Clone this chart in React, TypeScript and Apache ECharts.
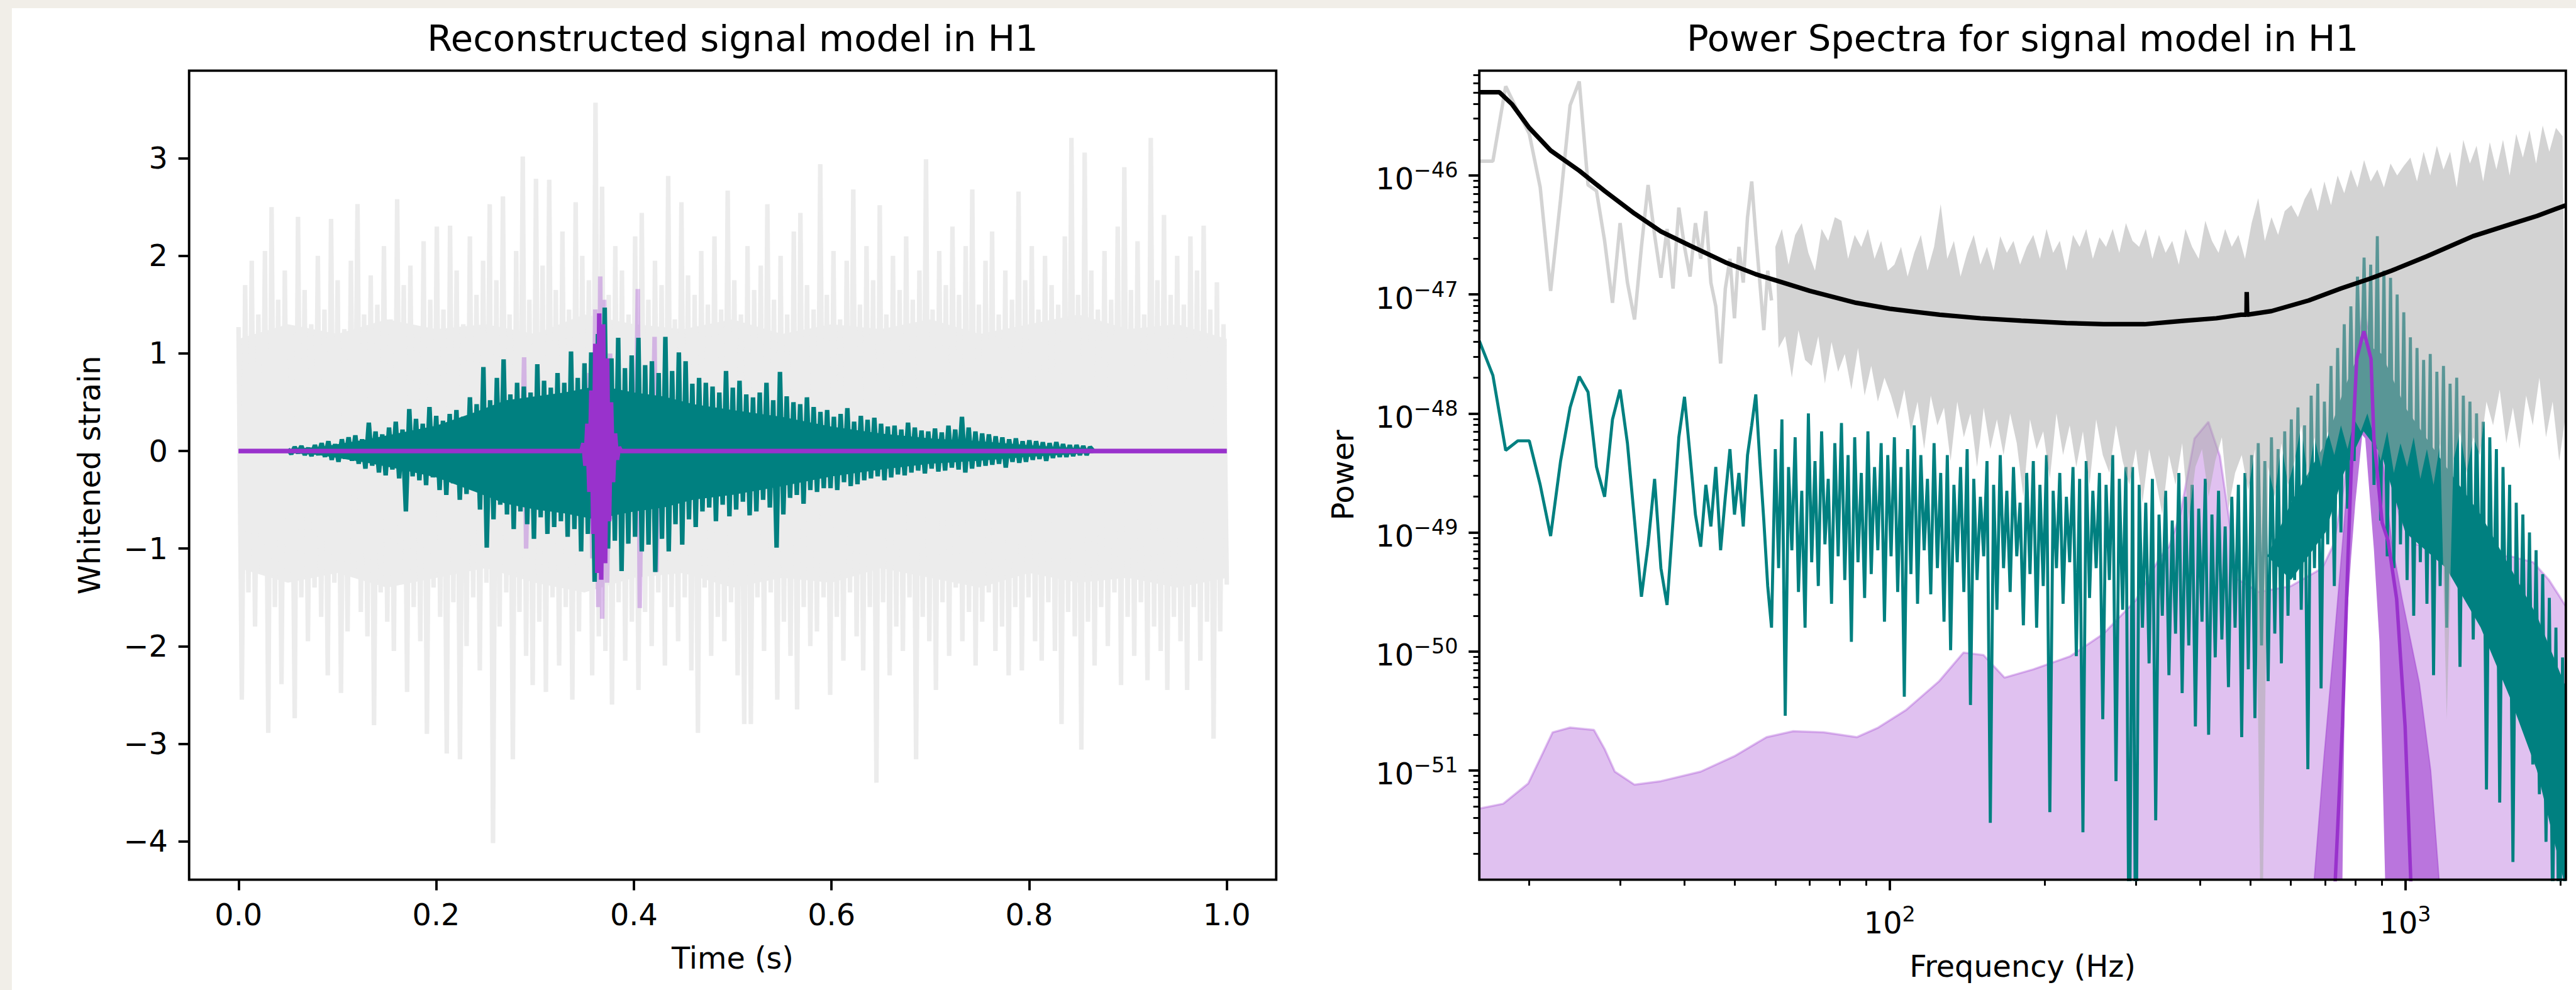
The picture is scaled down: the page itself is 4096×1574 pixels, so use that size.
import React, { useEffect, useRef } from "react";
import * as echarts from "echarts";

const S = 0.994;
const W = 4096;
const H = 1574;
const FONT = '"DejaVu Sans", "Liberation Sans", Arial, sans-serif';
const TICK_FS = 48 * S;
const LABEL_FS = 48 * S;
const TITLE_FS = 58 * S;
const SUP_FS = TICK_FS * 0.7;
const SPINE_W = 3.84;

// ---------------- Left panel: reconstructed signal (time domain) ----------------
const timeTicks = [0, 0.2, 0.4, 0.6, 0.8, 1.0];
const strainTicks = [-4, -3, -2, -1, 0, 1, 2, 3];

// whitened data, 300 samples evenly spread over 0..1 s
const whitenedStrain = [
  1.27, -2.55, 1.7, -1.45, 1.95, -1.8, 1.4, -1.25, 2.05, -2.89,
  2.5, -1.6, 1.55, -2.39, 1.85, -1.3, 1.2, -2.74, 2.4, -1.5,
  1.65, -1.95, 1.3, -1.4, 2.0, -1.7, 1.45, -2.3, 2.38, -1.35,
  1.75, -2.48, 1.25, -1.85, 1.95, -1.2, 2.53, -1.65, 1.4, -1.9,
  1.8, -2.81, 1.5, -1.45, 2.1, -1.75, 1.35, -2.05, 2.58, -1.3,
  1.7, -2.47, 1.9, -1.6, 1.25, -1.95, 2.15, -2.9, 1.55, -1.4,
  2.3, -1.7, 1.45, -3.1, 2.31, -1.55, 1.85, -3.16, 1.3, -2.0,
  2.2, -1.5, 1.6, -2.25, 1.95, -1.35, 2.53, -4.02, 1.75, -1.8,
  2.61, -1.45, 1.4, -3.16, 2.05, -1.65, 3.02, -2.1, 1.55, -2.4,
  2.79, -1.75, 1.9, -2.47, 2.78, -1.5, 1.65, -2.2, 2.25, -1.6,
  1.45, -2.55, 2.55, -1.85, 2.0, -1.4, 1.75, -2.3, 3.57, -1.9,
  2.71, -2.05, 1.6, -2.6, 2.1, -1.55, 1.85, -2.15, 1.4, -1.75,
  2.2, -2.45, 2.44, -1.65, 1.55, -2.0, 1.95, -1.45, 1.7, -2.2,
  2.82, -1.6, 1.35, -1.95, 2.55, -1.5, 1.8, -2.25, 1.6, -2.89,
  2.05, -1.4, 1.5, -2.1, 2.2, -1.7, 1.45, -1.95, 2.67, -1.55,
  1.75, -2.3, 1.4, -2.8, 2.1, -2.8, 1.65, -1.5, 1.9, -2.05,
  2.53, -1.45, 1.55, -2.55, 2.0, -1.75, 1.4, -2.1, 2.25, -2.65,
  2.44, -1.6, 1.7, -2.0, 1.45, -1.85, 2.94, -1.5, 1.6, -2.5,
  2.05, -1.7, 1.35, -2.15, 1.95, -1.45, 2.68, -1.9, 1.5, -2.25,
  2.1, -1.6, 1.75, -3.4, 2.52, -1.55, 1.4, -2.3, 2.0, -1.8,
  1.65, -2.05, 2.2, -1.5, 1.55, -3.16, 1.85, -1.7, 2.99, -1.95,
  1.45, -2.45, 2.05, -1.55, 1.7, -2.1, 2.3, -1.4, 1.6, -1.95,
  2.1, -1.65, 2.68, -2.2, 1.5, -1.75, 1.95, -1.45, 2.25, -2.05,
  1.4, -1.8, 1.85, -2.3, 1.55, -1.6, 2.66, -2.25, 1.75, -1.5,
  2.1, -1.95, 1.45, -2.15, 2.0, -1.55, 1.7, -2.05, 1.5, -2.8,
  2.2, -1.65, 3.21, -1.9, 1.6, -3.06, 3.06, -1.75, 1.85, -2.2,
  1.45, -1.6, 2.05, -2.0, 1.55, -1.45, 2.3, -2.4, 2.91, -1.7,
  1.65, -2.1, 2.15, -1.55, 1.4, -2.35, 3.21, -1.8, 1.75, -2.05,
  2.42, -2.45, 1.6, -1.7, 2.0, -1.95, 1.5, -2.45, 2.2, -1.6,
  1.85, -2.15, 2.31, -1.75, 1.45, -2.95, 1.73, -1.85, 1.3, -1.37,
];
// dense core of the whitened data (envelope of the bulk of the samples)
const whitenedCoreTimes = [
  0, 0.05, 0.1, 0.15, 0.2, 0.25, 0.3, 0.35, 0.4, 0.45, 0.5, 0.55, 0.6, 0.65, 0.7,
  0.75, 0.8, 0.85, 0.9, 0.95, 1.0,
];
const whitenedCoreUpper = [
  1.15, 1.3, 1.2, 1.35, 1.25, 1.3, 1.2, 1.4, 1.3, 1.25, 1.35, 1.2, 1.3, 1.25, 1.35,
  1.2, 1.3, 1.4, 1.25, 1.3, 1.15,
];
const whitenedCoreLower = [
  -1.2, -1.35, -1.25, -1.4, -1.3, -1.2, -1.35, -1.45, -1.3, -1.25, -1.4, -1.3, -1.35,
  -1.2, -1.3, -1.4, -1.25, -1.35, -1.3, -1.4, -1.3,
];

// reconstructed signal, 240 samples evenly spread over 0.05..0.865 s
const reconStart = 0.05;
const reconEnd = 0.865;
const reconstructedStrain = [
  0.02, -0.03, 0.04, -0.02, 0.05, -0.04, 0.03, -0.05, 0.06, -0.04,
  0.08, -0.06, 0.1, -0.09, 0.07, -0.11, 0.12, -0.08, 0.14, -0.1,
  0.16, -0.13, 0.12, -0.18, 0.29, -0.15, 0.2, -0.22, 0.17, -0.25,
  0.24, -0.19, 0.3, -0.28, 0.22, -0.62, 0.43, -0.26, 0.33, -0.3,
  0.28, -0.35, 0.45, -0.27, 0.36, -0.4, 0.31, -0.45, 0.38, -0.33,
  0.42, -0.5, 0.35, -0.44, 0.55, -0.38, 0.48, -0.6, 0.86, -0.99,
  0.52, -0.7, 0.75, -0.55, 0.94, -0.65, 0.58, -0.8, 0.7, -0.62,
  0.66, -0.75, 0.6, -0.9, 0.89, -0.68, 0.72, -0.85, 0.65, -0.78,
  0.8, -0.72, 0.7, -0.88, 1.02, -0.8, 0.75, -1.03, 0.9, -0.85,
  1.01, -1.34, 1.2, -1.1, 1.47, -1.0, 0.95, -0.92, 1.16, -1.23,
  0.85, -0.95, 0.98, -0.88, 1.16, -1.03, 0.88, -0.96, 0.92, -1.24,
  0.8, -0.9, 1.17, -1.03, 0.82, -0.75, 1.01, -0.96, 0.92, -0.7,
  0.69, -0.78, 0.75, -0.62, 0.7, -0.58, 0.66, -0.72, 0.6, -0.55,
  0.82, -0.67, 0.65, -0.6, 0.72, -0.52, 0.58, -0.66, 0.55, -0.62,
  0.6, -0.5, 0.7, -0.58, 0.52, -0.99, 0.81, -0.65, 0.56, -0.48,
  0.5, -0.45, 0.48, -0.54, 0.55, -0.4, 0.45, -0.42, 0.4, -0.38,
  0.42, -0.38, 0.35, -0.4, 0.38, -0.32, 0.44, -0.36, 0.3, -0.34,
  0.36, -0.3, 0.32, -0.28, 0.34, -0.26, 0.28, -0.3, 0.25, -0.27,
  0.26, -0.24, 0.22, -0.25, 0.29, -0.22, 0.24, -0.2, 0.21, -0.23,
  0.2, -0.18, 0.23, -0.21, 0.19, -0.2, 0.26, -0.17, 0.22, -0.19,
  0.35, -0.22, 0.24, -0.18, 0.2, -0.16, 0.18, -0.15, 0.17, -0.14,
  0.15, -0.13, 0.14, -0.17, 0.12, -0.11, 0.13, -0.12, 0.1, -0.11,
  0.11, -0.09, 0.1, -0.08, 0.09, -0.1, 0.08, -0.07, 0.09, -0.06,
  0.07, -0.06, 0.06, -0.05, 0.06, -0.04, 0.05, -0.04, 0.04, 0.0,
];
// dense core of the reconstruction
const reconCoreTimes = [
  0.05, 0.08, 0.1, 0.13, 0.16, 0.2, 0.24, 0.27, 0.3, 0.33, 0.36, 0.38, 0.4, 0.43,
  0.46, 0.5, 0.55, 0.6, 0.65, 0.7, 0.75, 0.8, 0.865,
];
const reconCoreUpper = [
  0.02, 0.04, 0.07, 0.12, 0.18, 0.26, 0.4, 0.52, 0.56, 0.6, 0.66, 0.64, 0.6, 0.56,
  0.48, 0.42, 0.35, 0.25, 0.18, 0.13, 0.1, 0.06, 0.02,
];
const reconCoreLower = [
  -0.02, -0.04, -0.07, -0.12, -0.18, -0.27, -0.42, -0.54, -0.6, -0.64, -0.7, -0.66,
  -0.62, -0.58, -0.5, -0.45, -0.36, -0.26, -0.19, -0.13, -0.1, -0.06, -0.02,
];

// median signal model (sine-Gaussian burst)
const medianTimes = [
  0, 0.347, 0.349, 0.351, 0.353, 0.355, 0.357, 0.359, 0.361, 0.363, 0.365,
  0.367, 0.369, 0.371, 0.373, 0.375, 0.377, 0.379, 0.381, 0.383, 0.385, 0.387, 1,
];
const medianStrain = [
  0, 0, 0.08, -0.15, 0.28, -0.42, 0.62, -0.85, 1.1, -1.25, 1.41,
  -1.32, 1.3, -1.15, 0.95, -0.72, 0.5, -0.32, 0.18, -0.09, 0.04, 0, 0,
];

// 90% credible interval excursions of the signal model
const ciTimes = [
  0, 0.287, 0.289, 0.291, 0.293, 0.345, 0.349, 0.352, 0.355, 0.358, 0.361, 0.364,
  0.366, 0.368, 0.37, 0.373, 0.376, 0.379, 0.382, 0.385, 0.388, 0.402, 0.404,
  0.406, 0.408, 0.419, 0.421, 0.423, 0.425, 1,
];
const ciStrain = [
  0, 0, 0.96, -1.0, 0, 0, 0.3, -0.5, 0.8, -1.1, 1.45, -1.6,
  1.79, -1.72, 1.55, -1.35, 1.0, -0.7, 0.45, -0.2, 0, 0, 1.66,
  -1.61, 0, 0, 1.17, -1.24, 0, 0,
];

// ---------------- Right panel: power spectra (log10 of power) ----------------
const freqTickExps = [2, 3];
const powerTickExps = [-51, -50, -49, -48, -47, -46];

// 1 Hz bins from 16 to 59 Hz, then 240 log-spaced bins from 60 to 2048 Hz
const lowFreqs = Array.from({ length: 44 }, (_, i) => 16 + i);
const highFreqs = Array.from({ length: 240 }, (_, k) => 60 * Math.pow(2048 / 60, k / 239));

const dataPsdLow = [
  -45.88, -45.88, -45.25, -45.46, -45.65, -46.1, -46.97, -46.2, -45.41, -45.21,
  -46.08, -46.13, -46.55, -47.07, -46.4, -46.9, -47.21, -46.6, -46.08, -46.5,
  -46.86, -46.45, -46.95, -46.27, -46.6, -46.85, -46.4, -46.7, -46.3, -46.9,
  -47.1, -47.58, -46.95, -46.7, -47.2, -46.6, -46.9, -46.35, -46.05, -46.5,
  -46.9, -47.3, -46.8, -47.05,
];
// high band: even bins are local maxima, odd bins local minima
const dataPsdHigh = [
  -46.6, -47.45, -46.45, -47.35, -46.75, -47.7, -46.5, -47.3, -46.4, -47.55,
  -46.65, -47.6, -46.8, -47.35, -46.45, -47.75, -46.55, -47.4, -46.35, -47.65,
  -46.38, -47.5, -46.7, -47.8, -46.5, -47.45, -46.6, -47.85, -46.45, -47.6,
  -46.7, -47.9, -46.55, -47.7, -46.8, -47.85, -46.75, -48.05, -46.6, -47.8,
  -46.85, -48.15, -46.65, -47.9, -46.5, -48.3, -46.8, -47.85, -46.6, -48.1,
  -46.24, -47.95, -46.7, -48.4, -46.55, -47.9, -46.85, -48.2, -46.65, -48.0,
  -46.5, -48.45, -46.75, -47.95, -46.6, -48.3, -46.8, -48.05, -46.51, -48.35,
  -46.65, -48.0, -46.55, -48.25, -46.75, -48.7, -46.6, -48.05, -46.5, -48.3,
  -46.7, -48.15, -46.45, -48.55, -46.65, -48.0, -46.55, -48.35, -46.8, -48.1,
  -46.5, -48.45, -46.6, -48.15, -46.45, -48.6, -46.7, -48.05, -46.52, -48.35,
  -46.6, -48.5, -46.45, -48.1, -46.65, -48.4, -46.4, -48.6, -46.55, -48.3,
  -46.6, -48.75, -46.45, -48.3, -46.7, -48.55, -46.5, -48.85, -46.65, -48.35,
  -46.55, -48.6, -46.75, -48.25, -46.45, -48.9, -46.6, -48.45, -46.7, -48.3,
  -46.38, -48.7, -46.55, -48.4, -46.65, -48.2, -46.45, -48.8, -46.6, -48.5,
  -46.5, -48.35, -46.7, -48.65, -46.4, -48.3, -46.19, -53.0, -46.55, -48.45,
  -46.35, -48.7, -46.5, -48.25, -46.3, -48.6, -46.25, -48.4, -46.35, -48.1,
  -46.2, -48.55, -46.1, -48.2, -46.3, -48.45, -46.05, -48.15, -46.25, -48.35,
  -46.0, -48.1, -46.15, -48.3, -45.95, -48.05, -46.1, -48.15, -45.87, -48.0,
  -46.05, -48.2, -45.95, -48.4, -46.1, -48.15, -45.9, -48.5, -46.0, -48.25,
  -45.92, -48.45, -45.85, -48.2, -46.05, -48.55, -45.8, -48.3, -46.0, -48.6,
  -45.75, -48.25, -45.95, -50.57, -45.8, -48.4, -46.1, -48.15, -45.7, -48.5,
  -45.9, -48.2, -45.75, -48.35, -46.05, -47.9, -45.72, -48.1, -45.95, -47.8,
  -45.7, -48.25, -46.0, -47.95, -45.65, -48.3, -45.85, -47.85, -45.62, -48.1,
  -45.9, -47.7, -45.58, -48.2, -45.8, -47.9, -45.6, -48.4, -45.67, -48.0,
];

const reconPsdLow = [
  -47.39, -47.68, -48.31, -48.23, -48.23, -48.6, -49.03, -48.4, -47.95, -47.69,
  -47.82, -48.45, -48.7, -48.05, -47.8, -48.25, -48.9, -49.54, -49.1, -48.55,
  -49.3, -49.61, -48.9, -48.2, -47.86, -48.35, -48.85, -49.12, -48.6, -48.95,
  -48.45, -49.15, -48.7, -48.3, -48.85, -48.5, -48.95, -48.35, -48.1, -47.84,
  -48.4, -48.9, -49.45, -49.8,
];
const reconPsdHigh = [
  -48.3, -49.3, -48.05, -50.54, -48.45, -49.15, -48.2, -49.5, -48.65, -49.8,
  -48.0, -49.25, -48.4, -49.45, -48.15, -49.1, -48.55, -49.6, -48.25, -49.2,
  -48.08, -49.4, -48.35, -49.92, -48.2, -49.25, -48.5, -49.55, -48.15, -49.35,
  -48.45, -49.15, -48.25, -49.75, -48.35, -49.2, -48.2, -49.5, -48.45, -50.38,
  -48.3, -49.35, -48.1, -49.6, -48.35, -49.15, -48.55, -49.52, -48.25, -49.3,
  -48.5, -49.75, -48.35, -49.99, -48.6, -49.25, -48.45, -49.5, -48.3, -50.45,
  -48.55, -49.4, -48.7, -49.2, -48.4, -51.44, -48.6, -49.65, -48.35, -49.3,
  -48.65, -49.5, -48.45, -49.2, -48.75, -49.78, -48.5, -49.35, -48.4, -49.8,
  -48.6, -49.45, -48.35, -51.35, -48.65, -49.3, -48.5, -49.6, -48.7, -49.25,
  -48.45, -50.04, -48.55, -51.52, -48.4, -49.55, -48.65, -49.3, -48.5, -50.57,
  -48.6, -49.4, -48.35, -51.09, -48.55, -49.65, -48.45, -53.0, -48.45, -53.0,
  -48.6, -49.8, -48.75, -50.1, -48.55, -51.42, -48.85, -49.7, -48.65, -50.2,
  -48.9, -49.85, -48.5, -50.35, -48.7, -49.95, -48.6, -50.63, -48.8, -49.75,
  -48.55, -50.7, -48.85, -50.05, -48.65, -49.9, -48.95, -50.3, -48.7, -49.8,
  -48.6, -50.72, -48.5, -50.15, -48.35, -50.56, -48.25, -49.95, -48.4, -50.25,
  -48.2, -49.85, -48.3, -50.1, -48.15, -49.7, -48.05, -49.4, -47.95, -49.65,
  -48.1, -50.99, -47.85, -49.3, -47.75, -50.31, -47.9, -49.1, -47.6, -49.45,
  -47.45, -49.0, -47.25, -48.8, -47.1, -48.4, -46.85, -48.0, -46.69, -48.1,
  -46.75, -48.6, -46.51, -48.9, -46.8, -49.2, -46.86, -49.3, -47.0, -49.1,
  -47.15, -49.4, -47.36, -49.7, -47.45, -49.25, -47.55, -49.6, -47.5, -50.2,
  -47.65, -49.45, -47.6, -49.8, -47.75, -49.35, -47.7, -50.13, -47.85, -49.55,
  -47.9, -49.9, -48.0, -49.7, -48.07, -51.16, -48.2, -49.95, -48.3, -51.27,
  -48.45, -50.1, -48.6, -51.77, -48.75, -50.4, -48.85, -50.7, -49.0, -50.95,
  -49.15, -51.2, -49.35, -51.6, -49.55, -52.2, -49.8, -53.0, -50.05, -53.0,
];
// dense core of the reconstruction spectrum (where the samples merge into a solid mass)
const reconPsdCoreFreqs = [540, 600, 700, 760, 830, 900, 1000, 1200, 1400, 1600, 1800, 2048];
const reconPsdCoreUpper = [-49.2, -48.75, -48.25, -47.8, -47.4, -47.5, -47.95, -48.45, -48.85, -49.3, -49.7, -50.3];
const reconPsdCoreLower = [-49.2, -49.4, -49.0, -48.5, -48.15, -48.35, -49.0, -49.3, -49.8, -50.4, -51.0, -52.0];

// noise PSD (smooth curve)
const noisePsdFreqs = [
  16, 17.5, 18.5, 20, 22, 25, 28, 32, 36, 41, 48, 55, 60, 70, 86, 100, 125, 150,
  180, 220, 260, 312, 374, 430, 480, 492, 492.5, 493, 493.5, 550, 650, 750, 850, 940,
  1100, 1353, 1600, 1800, 2048,
];
const noisePsdExp = [
  -45.3, -45.3, -45.4, -45.6, -45.79, -45.96, -46.13, -46.32, -46.47, -46.59, -46.73,
  -46.83, -46.88, -46.97, -47.07, -47.12, -47.17, -47.2, -47.22, -47.24, -47.25,
  -47.25, -47.22, -47.2, -47.17, -47.17, -46.98, -46.98, -47.17, -47.14, -47.05,
  -46.95, -46.87, -46.8, -46.68, -46.51, -46.41, -46.34, -46.25,
];

// signal model PSD: 90% upper bound
const ciUpperFreqs = [
  16, 17.8, 19.9, 21, 22.2, 24, 26.7, 28, 29.3, 32, 36, 43, 50, 57.7, 65, 74.5, 86.4,
  95, 107.7, 124.7, 139, 152, 167, 190, 224, 260, 300, 334, 348, 366, 390, 415, 437,
  454, 472, 520, 600, 690, 726, 760, 790, 815, 830, 850, 880, 920, 980, 1050, 1200,
  1400, 1600, 1770, 1900, 2048,
];
const ciUpperExp = [
  -51.32, -51.28, -51.11, -50.9, -50.68, -50.64, -50.66, -50.82, -51.01, -51.12,
  -51.09, -51.01, -50.88, -50.72, -50.67, -50.68, -50.72, -50.64, -50.49, -50.25,
  -50.01, -50.03, -50.22, -50.15, -50.04, -49.85, -49.57, -49.21, -49.12, -48.85,
  -48.21, -48.07, -48.36, -48.85, -49.39, -49.5, -49.45, -49.3, -49.1, -48.6, -47.9,
  -47.3, -47.15, -47.3, -47.8, -48.4, -48.9, -49.1, -49.15, -49.2, -49.2, -49.25,
  -49.4, -49.62,
];
// signal model PSD: 50% upper bound
const ci50UpperFreqs = [
  640, 665, 695, 725, 755, 785, 815, 832, 850, 880, 910, 940, 986, 1065, 1120, 1164, 1190,
];
const ci50UpperExp = [
  -53, -51.94, -50.9, -50.0, -49.1, -48.2, -47.5, -47.25, -47.4, -48.0, -48.5, -49.07,
  -49.56, -50.27, -51.0, -51.94, -53,
];
// signal model PSD: lower bound
const ciLowerFreqs = [740, 755, 765, 785, 800, 825, 836, 869, 891, 914, 930];
const ciLowerExp = [-53, -51.94, -49.92, -49.21, -48.75, -48.18, -48.21, -49.14, -49.92, -51.94, -53];
// signal model PSD: median
const medianPsdFreqs = [
  720, 731, 755, 774, 785, 805, 820, 831, 858, 869, 902, 926, 962, 999, 1025, 1040,
];
const medianPsdExp = [
  -53, -51.94, -50.63, -49.21, -48.5, -47.54, -47.4, -47.31, -47.54, -48.21, -48.92,
  -49.07, -49.56, -50.63, -51.94, -53,
];

const FREQ_MIN = Math.log10(16);
const FREQ_MAX = Math.log10(2048);
const POW_MIN = -51.918;
const POW_MAX = -45.119;

function pairs(xs: number[], ys: number[]) {
  return xs.map((x, i) => [x, ys[i]]);
}
function logPairs(fs: number[], es: number[]) {
  return fs.map((f, i) => [Math.log10(f), es[i]]);
}
function band(upper: number[][], lower: number[][]) {
  return [...upper, ...lower.slice().reverse()];
}

function buildOption() {
  const tickLine = { color: "#000", width: SPINE_W };
  const minorLine = { color: "#000", width: 2.9 };

  const minorX: number[] = [];
  [10, 100, 1000].forEach((d) => {
    for (let k = 2; k <= 9; k++) {
      const v = Math.log10(k * d);
      if (v > FREQ_MIN && v < FREQ_MAX) minorX.push(v);
    }
  });
  const minorY: number[] = [];
  for (let n = -52; n <= -46; n++) {
    for (let k = 2; k <= 9; k++) {
      const v = n + Math.log10(k);
      if (v > POW_MIN && v < POW_MAX) minorY.push(v);
    }
  }

  const gridTop = 113 * S;
  const gridH = 1294 * S;

  const timeSeries = whitenedStrain.map((v, i) => [i / (whitenedStrain.length - 1), v]);
  const reconSeries = reconstructedStrain.map((v, i) => [
    reconStart + ((reconEnd - reconStart) * i) / (reconstructedStrain.length - 1),
    v,
  ]);

  const specFreqs = [...lowFreqs, ...highFreqs];
  const reconPsd = [...reconPsdLow, ...reconPsdHigh];
  const highMax = logPairs(highFreqs, dataPsdHigh).filter((_, k) => k % 2 === 0);
  const highMin = logPairs(highFreqs, dataPsdHigh).filter((_, k) => k % 2 === 1);

  const base = {
    type: "line",
    showSymbol: false,
    symbol: "none",
    silent: true,
    animation: false,
    emphasis: { disabled: true },
    clip: true,
  };

  const poly = (name: string, xi: number, yi: number, pts: number[][], fill: string, z: number) => ({
    type: "custom",
    name,
    coordinateSystem: "cartesian2d",
    xAxisIndex: xi,
    yAxisIndex: yi,
    data: [pts[0]],
    silent: true,
    animation: false,
    clip: true,
    z,
    renderItem: (_params: any, api: any) => ({
      type: "polygon",
      shape: { points: pts.map((p) => api.coord(p)) },
      style: { fill },
    }),
  });

  const txt = (text: string, x: number, y: number, size: number, rot = 0) => ({
    type: "text",
    x,
    y,
    rotation: rot,
    z: 50,
    silent: true,
    style: {
      text,
      fill: "#000",
      font: `${size}px ${FONT}`,
      textAlign: "center",
      textVerticalAlign: "middle",
      align: "center",
      verticalAlign: "middle",
    },
  });

  const noLine = { show: false, onZero: false };

  return {
    animation: false,
    backgroundColor: "#f1eee8",
    graphic: [
      {
        type: "rect",
        z: -10,
        silent: true,
        shape: { x: 19 * S, y: 13 * S, width: W, height: H },
        style: { fill: "#ffffff" },
      },
      txt("Reconstructed signal model in H1", 1172 * S, 60.5, TITLE_FS),
      txt("Power Spectra for signal model in H1", 3235.5 * S, 60.5, TITLE_FS),
      txt("Time (s)", 1172 * S, 1523.2, LABEL_FS),
      txt("Frequency (Hz)", 3235.5 * S, 1536.6, LABEL_FS),
      txt("Whitened strain", 142.5, 760 * S, LABEL_FS, Math.PI / 2),
      txt("Power", 2135.5, 760 * S, LABEL_FS, Math.PI / 2),
    ],
    grid: [
      {
        left: 302.5 * S,
        top: gridTop,
        width: 1739 * S,
        height: gridH,
        show: true,
        borderColor: "#000",
        borderWidth: SPINE_W,
        backgroundColor: "transparent",
        z: 10,
      },
      {
        left: 2366.4 * S,
        top: gridTop,
        width: 1738.1 * S,
        height: gridH,
        show: true,
        borderColor: "#000",
        borderWidth: SPINE_W,
        backgroundColor: "transparent",
        z: 10,
      },
    ],
    xAxis: [
      {
        type: "value",
        gridIndex: 0,
        min: -0.05,
        max: 1.05,
        position: "bottom",
        axisLine: noLine,
        splitLine: { show: false },
        axisTick: { show: true, inside: false, length: 17, lineStyle: tickLine, customValues: timeTicks },
        axisLabel: {
          show: true,
          customValues: timeTicks,
          formatter: (v: number) => v.toFixed(1),
          fontSize: TICK_FS,
          fontFamily: FONT,
          color: "#000",
          margin: 32,
          lineHeight: TICK_FS,
        },
      },
      {
        type: "value",
        gridIndex: 1,
        min: FREQ_MIN,
        max: FREQ_MAX,
        position: "bottom",
        axisLine: noLine,
        splitLine: { show: false },
        axisTick: { show: true, inside: false, length: 17, lineStyle: tickLine, customValues: freqTickExps },
        axisLabel: {
          show: true,
          customValues: freqTickExps,
          formatter: (v: number) => `{a|10}{b|${Math.round(v)}}`,
          margin: 45.3,
          rich: {
            a: { fontSize: TICK_FS, fontFamily: FONT, color: "#000", lineHeight: 48 },
            b: { fontSize: SUP_FS, fontFamily: FONT, color: "#000", height: 20, verticalAlign: "top" },
          },
        },
      },
      {
        type: "value",
        gridIndex: 1,
        min: FREQ_MIN,
        max: FREQ_MAX,
        position: "bottom",
        axisLine: noLine,
        splitLine: { show: false },
        axisTick: { show: true, inside: false, length: 9.6, lineStyle: minorLine, customValues: minorX },
        axisLabel: { show: false },
      },
    ],
    yAxis: [
      {
        type: "value",
        gridIndex: 0,
        min: -4.394,
        max: 3.899,
        position: "left",
        axisLine: noLine,
        splitLine: { show: false },
        axisTick: { show: true, inside: false, length: 17, lineStyle: tickLine, customValues: strainTicks },
        axisLabel: {
          show: true,
          customValues: strainTicks,
          formatter: (v: number) => (v < 0 ? "\u2212" + Math.abs(v) : String(v)),
          fontSize: TICK_FS,
          fontFamily: FONT,
          color: "#000",
          margin: 33.8,
        },
      },
      {
        type: "value",
        gridIndex: 1,
        min: POW_MIN,
        max: POW_MAX,
        position: "left",
        axisLine: noLine,
        splitLine: { show: false },
        axisTick: { show: true, inside: false, length: 17, lineStyle: tickLine, customValues: powerTickExps },
        axisLabel: {
          show: true,
          customValues: powerTickExps,
          formatter: (v: number) => `{a|10}{b|\u2212${Math.abs(Math.round(v))}}`,
          margin: 33.8,
          rich: {
            a: { fontSize: TICK_FS, fontFamily: FONT, color: "#000", height: 48, lineHeight: 48, verticalAlign: "bottom" },
            b: { fontSize: SUP_FS, fontFamily: FONT, color: "#000", height: 44, lineHeight: 60, verticalAlign: "top" },
          },
        },
      },
      {
        type: "value",
        gridIndex: 1,
        min: POW_MIN,
        max: POW_MAX,
        position: "left",
        axisLine: noLine,
        splitLine: { show: false },
        axisTick: { show: true, inside: false, length: 9.6, lineStyle: minorLine, customValues: minorY },
        axisLabel: { show: false },
      },
    ],
    series: [
      // ---- left panel ----
      poly("whitened data core", 0, 0,
        band(pairs(whitenedCoreTimes, whitenedCoreUpper), pairs(whitenedCoreTimes, whitenedCoreLower)),
        "#ececec", 1),
      { ...base, name: "whitened data", xAxisIndex: 0, yAxisIndex: 0, z: 2, data: timeSeries,
        lineStyle: { color: "#ececec", width: 7.2 } },
      { ...base, name: "90% CI", xAxisIndex: 0, yAxisIndex: 0, z: 3, data: pairs(ciTimes, ciStrain),
        lineStyle: { color: "rgba(153,50,204,0.3)", width: 7.2 } },
      poly("reconstruction core", 0, 0,
        band(pairs(reconCoreTimes, reconCoreUpper), pairs(reconCoreTimes, reconCoreLower)),
        "#008080", 4),
      { ...base, name: "reconstruction", xAxisIndex: 0, yAxisIndex: 0, z: 4, data: reconSeries,
        lineStyle: { color: "#008080", width: 7.2 } },
      { ...base, name: "median", xAxisIndex: 0, yAxisIndex: 0, z: 5, data: pairs(medianTimes, medianStrain),
        lineStyle: { color: "#9932cc", width: 7.2 } },
      // ---- right panel ----
      { ...base, name: "PSD 90% CI", xAxisIndex: 1, yAxisIndex: 1, z: 2, data: logPairs(ciUpperFreqs, ciUpperExp),
        lineStyle: { color: "rgba(153,50,204,0.3)", width: 3.5 },
        areaStyle: { color: "rgba(153,50,204,0.3)", opacity: 1, origin: "start" } },
      { ...base, name: "PSD 50% CI", xAxisIndex: 1, yAxisIndex: 1, z: 3, data: logPairs(ci50UpperFreqs, ci50UpperExp),
        lineStyle: { color: "rgba(153,50,204,0.4)", width: 2 },
        areaStyle: { color: "rgba(153,50,204,0.53)", opacity: 1, origin: "start" } },
      { ...base, name: "PSD lower", xAxisIndex: 1, yAxisIndex: 1, z: 4, data: logPairs(ciLowerFreqs, ciLowerExp),
        lineStyle: { color: "#ffffff", width: 0, opacity: 0 },
        areaStyle: { color: "#ffffff", opacity: 1, origin: "start" } },
      poly("reconstruction PSD core", 1, 1,
        band(logPairs(reconPsdCoreFreqs, reconPsdCoreUpper), logPairs(reconPsdCoreFreqs, reconPsdCoreLower)),
        "#008080", 5),
      { ...base, name: "reconstruction PSD", xAxisIndex: 1, yAxisIndex: 1, z: 5, data: logPairs(specFreqs, reconPsd),
        lineStyle: { color: "#008080", width: 4.8 } },
      { ...base, name: "data PSD", xAxisIndex: 1, yAxisIndex: 1, z: 6, data: logPairs(lowFreqs, dataPsdLow),
        lineStyle: { color: "rgba(171,171,171,0.52)", width: 5.5 } },
      poly("data PSD band", 1, 1, band(highMax, highMin), "rgba(171,171,171,0.52)", 6),
      { ...base, name: "median PSD", xAxisIndex: 1, yAxisIndex: 1, z: 7, data: logPairs(medianPsdFreqs, medianPsdExp),
        lineStyle: { color: "#9932cc", width: 5.5 } },
      { ...base, name: "noise PSD", xAxisIndex: 1, yAxisIndex: 1, z: 8, data: logPairs(noisePsdFreqs, noisePsdExp),
        lineStyle: { color: "#000000", width: 7.2 } },
    ],
  };
}

export default function App() {
  const ref = useRef<HTMLDivElement>(null);
  useEffect(() => {
    document.body.style.margin = "0";
    if (!ref.current) return;
    const chart = echarts.init(ref.current, null, { renderer: "svg", width: W, height: H });
    chart.setOption(buildOption() as any);
    return () => chart.dispose();
  }, []);
  return <div ref={ref} style={{ position: "absolute", left: 0, top: 0, width: W, height: H }} />;
}
